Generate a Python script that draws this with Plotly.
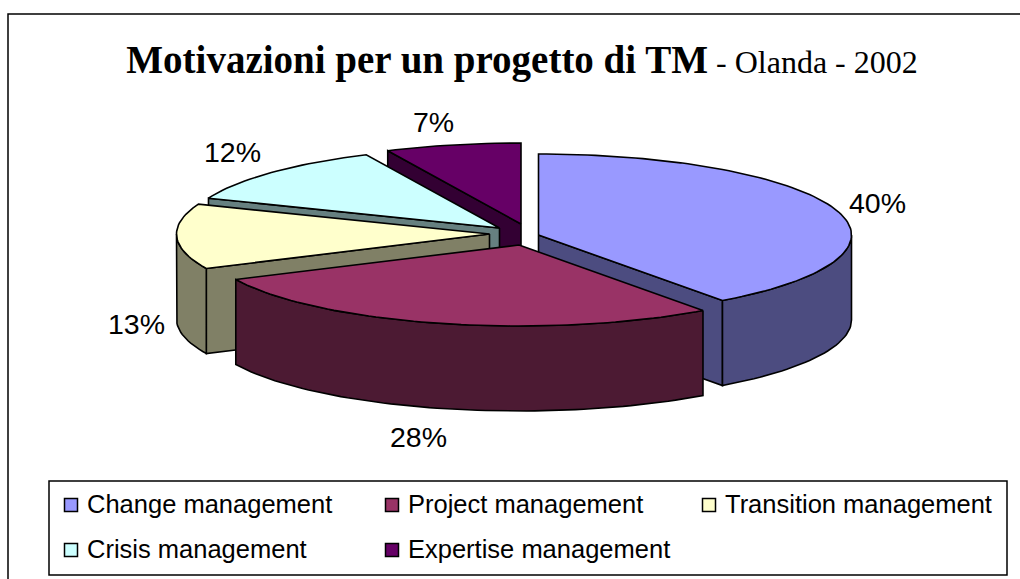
import math
import plotly.graph_objects as go

categories = ["Change management", "Project management", "Transition management",
              "Crisis management", "Expertise management"]
values = [40, 28, 13, 12, 7]
top_colors = ["#9999FF", "#993366", "#FFFFCC", "#CCFFFF", "#660066"]
side_colors = ["#4C4C80", "#4C1A33", "#808066", "#668080", "#330033"]

# layout (pixel space of the 1020x579 picture)
A, B, DEPTH = 313, 81, 85
APEX = [(538.5, 235), (519, 245), (489.5, 234), (499.5, 228), (521, 224)]
LABEL_POS = [(877, 203), (418, 437), (136, 324), (232, 152), (433, 122)]
LEGEND_POS = [(71, 505), (392, 505), (709, 505), (71, 550), (392, 550)]
DRAW_ORDER = [4, 3, 2, 0, 1]

total = sum(values)
edges = [0.0]
for v in values:
    edges.append(edges[-1] + 360.0 * v / total)


def rim(apex, deg, dy=0):
    t = math.radians(deg)
    return apex[0] + A * math.sin(t), apex[1] - B * math.cos(t) + dy


def arc(apex, d1, d2, dy=0, step=1.5):
    n = max(2, int(abs(d2 - d1) / step) + 1)
    return [rim(apex, d1 + (d2 - d1) * i / (n - 1), dy) for i in range(n)]


fig = go.Figure()


def poly(pts, fill, name):
    xs = [p[0] for p in pts] + [pts[0][0]]
    ys = [p[1] for p in pts] + [pts[0][1]]
    fig.add_trace(go.Scatter(x=xs, y=ys, mode="lines", fill="toself", fillcolor=fill,
                             line=dict(color="#000000", width=1.6), name=name,
                             showlegend=False, hoverinfo="name"))


for i in DRAW_ORDER:
    apex, d1, d2 = APEX[i], edges[i], edges[i + 1]
    name = categories[i]
    low = (apex[0], apex[1] + DEPTH)
    if math.sin(math.radians(d1)) < 0:
        poly([apex, rim(apex, d1), rim(apex, d1, DEPTH), low], side_colors[i], name)
    if math.sin(math.radians(d2)) > 0.01:
        poly([apex, rim(apex, d2), rim(apex, d2, DEPTH), low], side_colors[i], name)
    s, e = max(d1, 90), min(d2, 270)
    if s < e:
        poly(arc(apex, s, e) + arc(apex, e, s, DEPTH), side_colors[i], name)
    poly([apex] + arc(apex, d1, d2), top_colors[i], name)

annotations = []
for i, c in enumerate(categories):
    lx, ly = LABEL_POS[i]
    annotations.append(dict(x=lx, y=ly, text=f"{values[i]}%", showarrow=False,
                            font=dict(family="Liberation Sans", size=28.5, color="#000000")))
    gx, gy = LEGEND_POS[i]
    annotations.append(dict(x=gx + 14, y=gy - 1, text=c, showarrow=False, xanchor="left",
                            font=dict(family="Liberation Sans", size=25.5, color="#000000")))
    fig.add_trace(go.Scatter(x=[gx], y=[gy], mode="markers", name=c, showlegend=False,
                             marker=dict(symbol="square", size=13, color=top_colors[i],
                                         line=dict(color="#000000", width=1.5))))

shapes = [
    dict(type="rect", x0=8, y0=14, x1=1030, y1=590, line=dict(color="#000000", width=1.5),
         fillcolor="rgba(0,0,0,0)", layer="below"),
    dict(type="rect", x0=49, y0=481, x1=1007, y1=575, line=dict(color="#000000", width=1.5),
         fillcolor="#FFFFFF", layer="below"),
]

fig.update_layout(
    width=1020, height=579, autosize=False,
    margin=dict(l=0, r=0, t=0, b=0),
    paper_bgcolor="#FFFFFF", plot_bgcolor="#FFFFFF",
    showlegend=False,
    title=dict(
        text='<b>Motivazioni per un progetto di TM</b>'
             '<span style="font-size:32px"> - Olanda - 2002</span>',
        x=522 / 1020, xanchor="center", y=1 - 59 / 579, yanchor="middle",
        font=dict(family="Liberation Serif", size=39, color="#000000")),
    xaxis=dict(range=[0, 1020], visible=False, fixedrange=True),
    yaxis=dict(range=[579, 0], visible=False, fixedrange=True),
    annotations=annotations, shapes=shapes,
)

fig.write_html("out.html", config={"displayModeBar": False},
               post_script="document.body.style.margin='0';document.body.style.overflow='hidden';")
